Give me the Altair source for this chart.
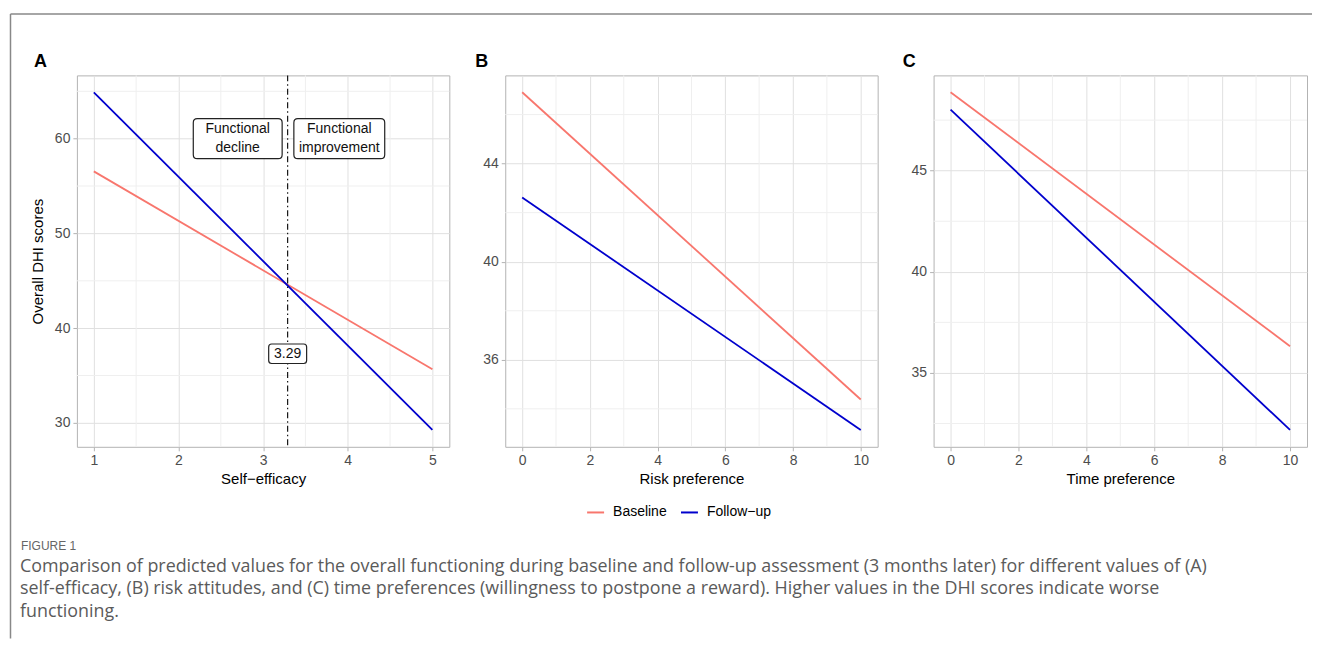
import altair as alt
import pandas as pd

FONT = "Liberation Sans"
CAP_FONT = "Open Sans"
series = ["Baseline", "Follow\u2212up"]
series_colors = ["#F8766D", "#0000CD"]

# Panel A: self-efficacy
a_x = [1, 5]
a_base = [56.55, 35.67]
a_follow = [64.9, 29.26]
a_xticks = [1, 2, 3, 4, 5]
a_yticks = [30, 40, 50, 60]
a_xminor = [1.5, 2.5, 3.5, 4.5]
a_yminor = [35, 45, 55, 65]

# Panel B: risk preference
b_x = [0, 10]
b_base = [46.91, 34.38]
b_follow = [42.62, 33.14]
b_xticks = [0, 2, 4, 6, 8, 10]
b_yticks = [36, 40, 44]
b_xminor = [1, 3, 5, 7, 9]
b_yminor = [34, 38, 42, 46]

# Panel C: time preference
c_x = [0, 10]
c_base = [48.88, 36.32]
c_follow = [48.02, 32.18]
c_xticks = [0, 2, 4, 6, 8, 10]
c_yticks = [35, 40, 45]
c_xminor = [1, 3, 5, 7, 9]
c_yminor = [32.5, 37.5, 42.5, 47.5]

# Annotations in panel A
threshold = [3.29]
box_labels = ["Functional\ndecline", "Functional\nimprovement"]
box_x = [2.70, 3.90]
box_y = [60, 60]
thr_label = ["3.29"]
thr_label_y = [37.3]

caption_head = "FIGURE 1"
caption_lines = [
    "Comparison of predicted values for the overall functioning during baseline and follow-up assessment (3 months later) for different values of (A)",
    "self-efficacy, (B) risk attitudes, and (C) time preferences (willingness to postpone a reward). Higher values in the DHI scores indicate worse",
    "functioning.",
]


def rounded_box(w, h, r):
    hx = 1.0
    hy = h / w
    rr = r / (w / 2)
    return (f"M{-hx+rr},{-hy} L{hx-rr},{-hy} Q{hx},{-hy} {hx},{-hy+rr} "
            f"L{hx},{hy-rr} Q{hx},{hy} {hx-rr},{hy} L{-hx+rr},{hy} "
            f"Q{-hx},{hy} {-hx},{hy-rr} L{-hx},{-hy+rr} Q{-hx},{-hy} {-hx+rr},{-hy} Z")


def expand(vals):
    lo, hi = min(vals), max(vals)
    pad = 0.05 * (hi - lo)
    return [lo - pad, hi + pad]


WIDTHS = {"A": 373, "B": 373, "C": 374}


def panel(xv, base, follow, xticks, yticks, xminor, yminor, xtitle, ytitle,
          letter, letter_dx, ytitle_pad, extra=None):
    df = pd.DataFrame({
        "x": list(xv) + list(xv),
        "y": list(base) + list(follow),
        "series": [series[0]] * len(xv) + [series[1]] * len(xv),
    })
    xdom = expand(xv)
    ydom = expand(list(base) + list(follow))
    xscale = alt.Scale(domain=xdom, nice=False, zero=False)
    yscale = alt.Scale(domain=ydom, nice=False, zero=False)
    xaxis = alt.Axis(values=xticks, title=xtitle, grid=True, labelFontSize=14,
                     titleFontSize=15)
    yaxis = alt.Axis(values=yticks, title=ytitle, grid=True, labelFontSize=14,
                     titleFontSize=15, titlePadding=ytitle_pad,
                     minExtent=24, maxExtent=24)
    xenc = alt.X("x:Q", scale=xscale, axis=xaxis)
    yenc = alt.Y("y:Q", scale=yscale, axis=yaxis)

    xminor_l = alt.Chart(pd.DataFrame({"x": xminor})).mark_rule(
        color="#EFEFEF", strokeWidth=1).encode(x=xenc)
    yminor_l = alt.Chart(pd.DataFrame({"y": yminor})).mark_rule(
        color="#EFEFEF", strokeWidth=1).encode(y=yenc)
    lines = alt.Chart(df).mark_line(strokeWidth=1.8).encode(
        x=xenc, y=yenc,
        color=alt.Color("series:N",
                        scale=alt.Scale(domain=series, range=series_colors),
                        legend=alt.Legend(orient="none", legendX=510, legendY=428,
                                          direction="horizontal", title=None,
                                          symbolType="stroke", symbolStrokeWidth=2,
                                          symbolSize=289, labelFontSize=14,
                                          labelFont=FONT, labelColor="#000000",
                                          columnPadding=10, labelOffset=8)),
        detail="series:N",
    )
    letter_mark = alt.Chart(pd.DataFrame({"t": [letter]})).mark_text(
        align="left", baseline="alphabetic", fontSize=18, fontWeight="bold",
        font=FONT, color="#000000").encode(
        x=alt.value(letter_dx), y=alt.value(-8), text="t:N")
    layers = [xminor_l, yminor_l, lines, letter_mark]
    if extra is not None:
        layers += extra(xenc, yenc)
    return alt.layer(*layers).properties(width=WIDTHS[letter], height=372)


def annotations(xenc, yenc):
    vline = alt.Chart(pd.DataFrame({"x": threshold})).mark_rule(
        color="#000000", strokeWidth=1.1, strokeDash=[6, 3, 1.5, 3]).encode(x=xenc)
    boxdf = pd.DataFrame({"x": box_x, "y": box_y, "label": box_labels})
    box1 = alt.Chart(boxdf.iloc[[0]]).mark_point(
        shape=rounded_box(89, 40, 4), size=89 ** 2, filled=True, fill="white",
        stroke="#222222", strokeWidth=1.2, opacity=1).encode(x=xenc, y=yenc)
    box2 = alt.Chart(boxdf.iloc[[1]]).mark_point(
        shape=rounded_box(91, 40, 4), size=91 ** 2, filled=True, fill="white",
        stroke="#222222", strokeWidth=1.2, opacity=1).encode(x=xenc, y=yenc)
    boxtext = alt.Chart(boxdf).mark_text(
        lineBreak="\n", lineHeight=19, fontSize=14, font=FONT, color="#111111",
        baseline="middle", align="center", dy=-9.5).encode(x=xenc, y=yenc, text="label:N")
    thrdf = pd.DataFrame({"x": threshold, "y": thr_label_y, "label": thr_label})
    box3 = alt.Chart(thrdf).mark_point(
        shape=rounded_box(38, 19.5, 3), size=38 ** 2, filled=True, fill="white",
        stroke="#222222", strokeWidth=1.2, opacity=1).encode(x=xenc, y=yenc)
    thrtext = alt.Chart(thrdf).mark_text(
        fontSize=14, font=FONT, color="#111111", baseline="middle",
        align="center").encode(x=xenc, y=yenc, text="label:N")
    one = pd.DataFrame({"k": [0]})
    frame_left = alt.Chart(one).mark_rule(color="#888888", strokeWidth=1.5).encode(
        x=alt.value(-66.5), y=alt.value(-61.5), y2=alt.value(564))
    frame_top = alt.Chart(one).mark_rule(color="#888888", strokeWidth=1.5).encode(
        x=alt.value(-66.5), x2=alt.value(1237), y=alt.value(-61.5))
    head = alt.Chart(pd.DataFrame({"t": [caption_head]})).mark_text(
        align="left", baseline="middle", fontSize=12, font=FONT, color="#666666").encode(
        x=alt.value(-56), y=alt.value(471), text="t:N")
    cap = alt.Chart(pd.DataFrame({"t": ["\n".join(caption_lines)]})).mark_text(
        align="left", baseline="middle", fontSize=17.9, font=CAP_FONT, color="#5A5A5A",
        lineBreak="\n", lineHeight=22.5).encode(
        x=alt.value(-57), y=alt.value(492), text="t:N")
    return [vline, box1, box2, box3, boxtext, thrtext, frame_left, frame_top, head, cap]


pa = panel(a_x, a_base, a_follow, a_xticks, a_yticks, a_xminor, a_yminor,
           "Self\u2212efficacy", "Overall DHI scores", "A", -43, 7, extra=annotations)
pb = panel(b_x, b_base, b_follow, b_xticks, b_yticks, b_xminor, b_yminor,
           "Risk preference", None, "B", -30, 5)
pc = panel(c_x, c_base, c_follow, c_xticks, c_yticks, c_xminor, c_yminor,
           "Time preference", None, "C", -31, 5)

chart = alt.hconcat(pa, pb, pc, spacing=56, bounds="flush").properties(
    padding={"left": 1, "top": 4, "right": 0, "bottom": 0}
).configure_axis(
    labelFont=FONT, labelColor="#4D4D4D",
    titleFont=FONT, titleColor="#000000", titleFontWeight="normal",
    tickColor="#B3B3B3", tickSize=4, domain=False, gridColor="#E0E0E0", gridWidth=1,
    labelPadding=3, titlePadding=4,
).configure_view(stroke="#B3B3B3", strokeWidth=1)

chart.save("out.html", embed_options={"renderer": "svg", "actions": False})
